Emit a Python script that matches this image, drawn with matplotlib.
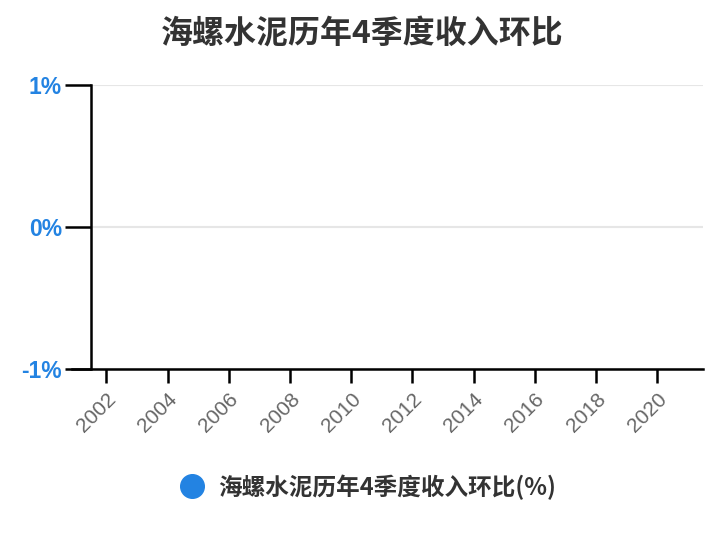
import matplotlib
matplotlib.use("Agg")
import matplotlib.pyplot as plt
import numpy as np

plt.rcParams['font.family'] = ['Noto Sans CJK SC', 'DejaVu Sans']

title = '海螺水泥历年4季度收入环比'
series_name = '海螺水泥历年4季度收入环比(%)'
years = []          # no data points in the reference
values = []
xticks = list(range(2002, 2021, 2))
yticks = [-1, 0, 1]

blue = '#2383e2'

fig = plt.figure(figsize=(7.24, 5.4), dpi=100)
ax = fig.add_axes([91/724, 1 - 369/540, (703 - 91)/724, (369 - 85)/540])

ax.plot(years, values, 'o', color=blue, markersize=17, label=series_name)

ax.set_xlim(2001.5, 2021.5)
ax.set_ylim(-1, 1)
ax.set_yticks(yticks)
ax.set_yticklabels([f'{v}%' for v in yticks], color=blue, fontsize=16.5,
                   fontweight='bold', family=['Liberation Sans', 'DejaVu Sans'])
ax.set_xticks(xticks)
ax.set_xticklabels([str(x) for x in xticks], rotation=45, ha='right',
                   rotation_mode='anchor', color='#666666', fontsize=15,
                   family=['Liberation Sans', 'DejaVu Sans'])

ax.grid(axis='y', color='#e6e6e6', linewidth=1.5)
ax.set_axisbelow(True)
for s in ['top', 'right']:
    ax.spines[s].set_visible(False)
ax.spines['left'].set_linewidth(1.8)
ax.spines['bottom'].set_linewidth(1.8)
ax.spines['bottom'].set_bounds(2001.5 - 19/30.6, 2021.5)
ax.tick_params(axis='y', length=19, width=1.8, pad=2)
ax.tick_params(axis='x', length=10, width=1.8, pad=5)

fig.suptitle(title, y=1 - 34/540, va='center', fontsize=23,
             fontweight='bold', color='#333333')

leg = fig.legend(loc='center', bbox_to_anchor=(0.5, 1 - 487/540), frameon=False,
                 prop={'size': 17, 'weight': 'bold'}, handletextpad=0.1,
                 markerscale=1.0)
for t in leg.get_texts():
    t.set_color('#333333')

fig.savefig('out.png', dpi=100)
